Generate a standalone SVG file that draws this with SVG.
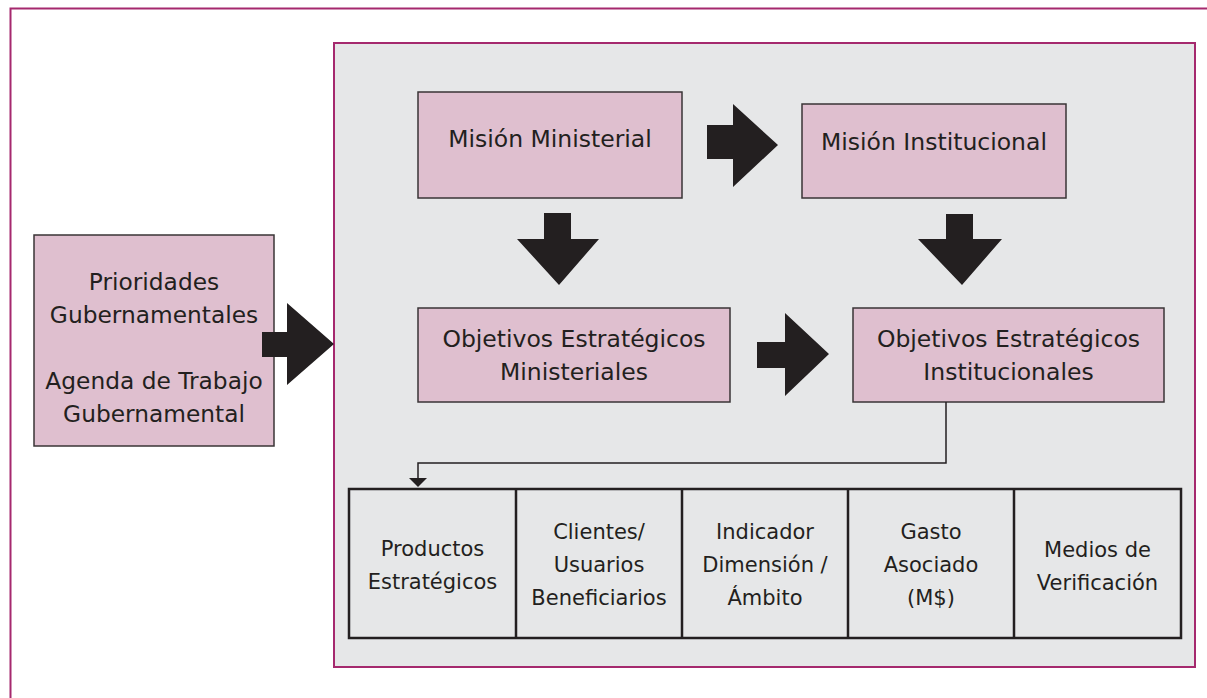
<svg xmlns="http://www.w3.org/2000/svg" width="1207" height="698" viewBox="0 0 1207 698">
<style>
.frame{fill:none;stroke:#a5296e;stroke-width:2}
.panel{fill:#e6e7e8;stroke:#a5296e;stroke-width:2}
.box{fill:#dfbfcf;stroke:#3a3536;stroke-width:1.5}
.arrow{fill:#231f20}
.t{font-family:"DejaVu Sans","Noto Sans",sans-serif;fill:#231f20;text-anchor:middle}
.tb{font-size:23.5px}
.tc{font-size:21px}
.tp{font-size:23.3px}
.cell{fill:none;stroke:#231f20;stroke-width:2.5}
.conn{fill:none;stroke:#231f20;stroke-width:1.5}
</style>
<rect width="1207" height="698" fill="#ffffff"/>
<g id="frame">
<path class="frame" d="M10.5,698 V8.5 H1207"/>
</g>
<g id="panel">
<rect class="panel" x="334" y="43" width="861" height="624"/>
</g>
<g id="prioridades">
<rect class="box" x="34" y="235" width="240" height="211"/>
<text class="t tp" x="154" y="290">Prioridades</text>
<text class="t tp" x="154" y="323">Gubernamentales</text>
<text class="t tp" x="154" y="389">Agenda de Trabajo</text>
<text class="t tp" x="154" y="422">Gubernamental</text>
</g>
<g id="mision-ministerial">
<rect class="box" x="418" y="92" width="264" height="106"/>
<text class="t tb" x="550" y="147">Misión Ministerial</text>
</g>
<g id="mision-institucional">
<rect class="box" x="802" y="104" width="264" height="94"/>
<text class="t tb" x="934" y="150">Misión Institucional</text>
</g>
<g id="objetivos-ministeriales">
<rect class="box" x="418" y="308" width="312" height="94"/>
<text class="t tb" x="574" y="347">Objetivos Estratégicos</text>
<text class="t tb" x="574" y="380">Ministeriales</text>
</g>
<g id="objetivos-institucionales">
<rect class="box" x="853" y="308" width="311" height="94"/>
<text class="t tb" x="1008.5" y="347">Objetivos Estratégicos</text>
<text class="t tb" x="1008.5" y="380">Institucionales</text>
</g>
<g id="tabla">
<rect class="cell" x="349" y="489" width="832" height="149"/>
<path class="cell" d="M516,489 V638 M682,489 V638 M848,489 V638 M1014,489 V638"/>
<text class="t tc" x="432.5" y="556">Productos</text>
<text class="t tc" x="432.5" y="589">Estratégicos</text>
<text class="t tc" x="599" y="539">Clientes/</text>
<text class="t tc" x="599" y="572">Usuarios</text>
<text class="t tc" x="599" y="605">Beneficiarios</text>
<text class="t tc" x="765" y="539">Indicador</text>
<text class="t tc" x="765" y="572">Dimensión /</text>
<text class="t tc" x="765" y="605">Ámbito</text>
<text class="t tc" x="931" y="539">Gasto</text>
<text class="t tc" x="931" y="572">Asociado</text>
<text class="t tc" x="931" y="605">(M$)</text>
<text class="t tc" x="1097.5" y="557">Medios de</text>
<text class="t tc" x="1097.5" y="590">Verificación</text>
</g>
<g id="connectors">
<polygon class="arrow" points="262,332 287,332 287,303 334,344 287,385 287,357 262,357"/>
<polygon class="arrow" points="707,125 733,125 733,104 778,145 733,187 733,159 707,159"/>
<polygon class="arrow" points="544,213 571,213 571,239 599,239 559,285 517,239 544,239"/>
<polygon class="arrow" points="946,214 973,214 973,239 1002,239 962,285 918,239 946,239"/>
<polygon class="arrow" points="757,342 785,342 785,313 829,354 785,396 785,368 757,368"/>
<polyline class="conn" points="946,402 946,463 418,463 418,479"/>
<polygon class="arrow" points="409,478 427,478 418,487"/>
</g>
</svg>
